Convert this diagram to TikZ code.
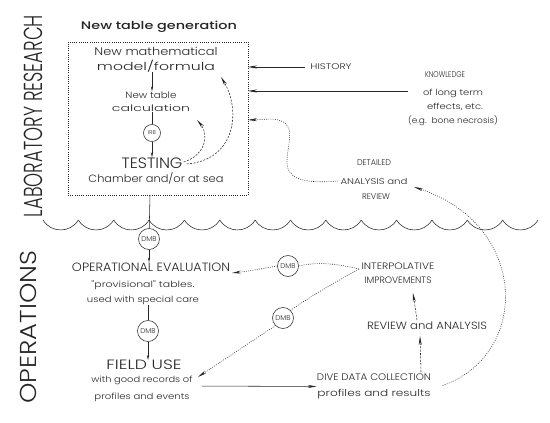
\documentclass[tikz,border=0pt]{standalone}
\usepackage{fontspec}
\setmonofont{Poppins}[UprightFont=* Light, BoldFont=* Medium]
\usepackage{graphicx}
\usetikzlibrary{arrows.meta}
\newcommand\fw[2]{\resizebox{#1pt}{\height}{#2}}
\newcommand\fs[1]{\fontsize{#1}{#1}\selectfont}
\begin{document}
\begin{tikzpicture}[x=1pt,y=-1pt, line width=0.55pt, draw=black!85,
  txt/.style={inner sep=0pt, text=black!85},
  dmb/.style={circle, draw, minimum size=21pt, inner sep=0pt, font=\ttfamily\fs{7}, text=black!85},
  arr/.style={-{Stealth[length=9pt,width=3pt]}},
  arrsmall/.style={-{Stealth[length=5pt,width=2.2pt]}},
  dotline/.style={dash pattern=on 0.9pt off 1.3pt},
  dashline/.style={dash pattern=on 2pt off 1.4pt}]
\useasboundingbox (0,0) rectangle (550,423);

% side labels
\node[txt, rotate=90, font=\ttfamily\fs{26}] (lab) at (33,116) {\fw{202}{LABORATORY RESEARCH}};
\node[txt, rotate=90, font=\ttfamily\fs{23}] (ops) at (28,327) {\fw{153}{OPERATIONS}};

% laboratory part
\node[txt, font=\ttfamily\bfseries\fs{11}] (title) at (159,27) {\fw{156}{New table generation}};
\node[draw, dotline, minimum width=180, minimum height=153, inner sep=0pt] (box) at (158,118.5) {};
\node[txt, font=\ttfamily\fs{11}, align=center] (model) at (156,59.5) {\fw{123}{New mathematical}\\[4pt]\fw{118}{model/formula}};
\node[txt, font=\ttfamily\fs{9}, align=center] (calc) at (151,101.5) {\fw{51}{New table}\\[4pt]\fw{78}{calculation}};
\node[dmb, minimum size=17pt, font=\ttfamily\fs{5.5}] (irb) at (152,133) {IRB};
\node[txt, font=\ttfamily\fs{15}] (test) at (152,163) {\fw{61}{TESTING}};
\node[txt, font=\ttfamily\fs{10.5}] (chamber) at (156,178) {\fw{135}{Chamber and/or at sea}};

\draw[arrsmall] (model.south -| irb) -- (calc.north -| irb);
\draw (calc.south -| irb) -- (irb);
\draw[arrsmall] (irb) -- (test.north -| irb);

\coordinate (t1) at (197,120);
\coordinate (t2) at (221,77);
\draw[dashline, arr] ([xshift=1pt,yshift=1pt]test.east) .. controls (206,155) and (209,134) .. (t1);
\draw[dashline, arr] ([xshift=4pt,yshift=-1pt]test.east) .. controls (236,160) and (241,110) .. (t2);

% inputs from the right
\node[txt, font=\ttfamily\fs{8.2}] (history) at (331,67) {\fw{41}{HISTORY}};
\coordinate (boxE1) at (248,67);
\draw[arr, shorten <=5pt] (history.west) -- (boxE1);

\node[txt, font=\ttfamily\fs{8.3}] (know) at (445,75) {\fw{40}{KNOWLEDGE}};
\node[txt, font=\ttfamily\fs{8.3}] (longterm) at (453,93) {\fw{60}{of long term}};
\node[txt, font=\ttfamily\fs{8.3}] (effects) at (455,107) {\fw{56}{effects, etc.}};
\node[txt, font=\ttfamily\fs{8.3}] (eg) at (453,121) {\fw{90}{(e.g.\ \ bone necrosis)}};
\coordinate (boxE2) at (248,91);
\draw[arr, shorten <=15pt] (longterm.west |- boxE2) -- (boxE2);

\node[txt, font=\ttfamily\fs{8.3}] (detailed) at (374,163) {\fw{34}{DETAILED}};
\node[txt, font=\ttfamily\fs{8.3}] (analysis) at (374,181) {\fw{67}{ANALYSIS and}};
\node[txt, font=\ttfamily\fs{8.3}] (reviewd) at (376,197) {\fw{28}{REVIEW}};
\coordinate (boxE3) at (248,120);
\draw[dotline, arr] ([xshift=-2pt]analysis.west) .. controls (300,184) and (286,178) .. (287,160)
   .. controls (288,140) and (298,121) .. (272,119) -- (boxE3);

% sea surface
\foreach \i in {0,...,13} {
  \draw (43+35.36*\i,220) .. controls +(8,13.3) and +(-8,13.3) .. (78.36+35.36*\i,220);
}

% operations part
\coordinate (boxbot) at (150,195);
\node[dmb] (dmb1) at (149,239) {DMB};
\draw (boxbot) -- (dmb1);
\node[txt, font=\ttfamily\fs{12}] (opeval) at (151,267) {\fw{158}{OPERATIONAL EVALUATION}};
\draw[arrsmall] (dmb1) -- (dmb1 |- opeval.north);
\node[txt, font=\ttfamily\fs{8.5}, align=center] (prov) at (143,293) {\fw{103}{"provisional" tables.}\\[5pt]\fw{112}{used with special care}};
\node[dmb] (dmb2) at (148,331) {DMB};
\draw (prov.south -| dmb2) -- (dmb2);
\node[txt, font=\ttfamily\fs{13.5}] (field) at (144,365) {\fw{75}{FIELD USE}};
\draw[arrsmall] (dmb2) -- (dmb2 |- field.north);
\node[txt, font=\ttfamily\fs{8.5}, align=center] (records) at (142,389) {\fw{101}{with good records of}\\[7pt]\fw{95}{profiles and events}};

\node[txt, font=\ttfamily\fs{9.5}, align=center] (dive) at (374,386.5) {\fw{114}{DIVE DATA COLLECTION}\\[7pt]\fw{113}{profiles and results}};
\draw[arr, shorten <=9pt] ([yshift=3pt]records.east) -- (dive.west);

\node[txt, font=\ttfamily\fs{10.5}] (review) at (427,326) {\fw{120}{REVIEW and ANALYSIS}};
\node[txt, font=\ttfamily\fs{9.3}, align=center] (interp) at (398,273.5) {\fw{73}{INTERPOLATIVE}\\[5pt]\fw{67}{IMPROVEMENTS}};

\coordinate (d1) at (421,372);
\coordinate (r1) at (420,336);
\coordinate (r2) at (417,320);
\coordinate (i1) at (413,293);
\draw[dashline, arr] (d1) -- (r1);
\draw[dashline, arr] (r2) -- (i1);

\node[dmb] (dmbA) at (288,266) {DMB};
\node[dmb] (dmbB) at (283,318) {DMB};
\coordinate (intW) at (359,269);
\coordinate (opE) at (232,273);
\coordinate (fuE) at (198,377);
\draw[dotline] (intW) .. controls (335,263) and (315,262) .. (dmbA.east);
\draw[dotline, arr] (dmbA.west) .. controls (265,268) and (250,271) .. (opE);
\draw[dotline] (intW) .. controls (330,285) and (305,300) .. (dmbB.north east);
\draw[dotline, arr] (dmbB.south west) -- (fuE);

\coordinate (anaE) at (414,187);
\draw[dotline, arr, shorten <=12pt] ([yshift=-3pt]dive.east) .. controls (530,355) and (530,225) .. (anaE);
\end{tikzpicture}
\end{document}
